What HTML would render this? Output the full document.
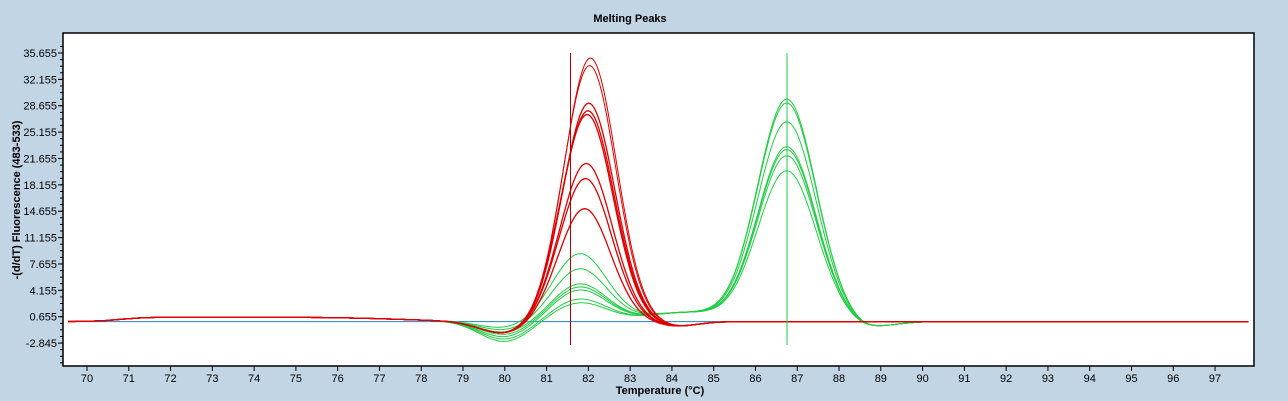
<!DOCTYPE html>
<html><head><meta charset="utf-8">
<style>
html,body{margin:0;padding:0;background:#c2d5e5;width:1288px;height:401px;overflow:hidden}
svg text{font-family:"Liberation Sans",sans-serif}
</style></head><body>
<svg id="s" width="1288" height="401" xmlns="http://www.w3.org/2000/svg">
<rect x="0" y="0" width="1288" height="401" fill="#c2d5e5"/>
<text x="630" y="22" font-size="11" font-weight="bold" text-anchor="middle">Melting Peaks</text>
<rect x="63" y="33" width="1191" height="333" fill="#fff" stroke="#000" stroke-width="1.5"/>
<text transform="translate(20,200) rotate(-90)" font-size="11" font-weight="bold" text-anchor="middle">-(d/dT) Fluorescence (483-533)</text>
<text x="660" y="394" font-size="11" font-weight="bold" text-anchor="middle">Temperature (°C)</text>
<g id="ax"></g>
<g id="curves" fill="none" stroke-width="1"></g>
</svg>
<script>
var ns="http://www.w3.org/2000/svg";
function X(t){return 87+41.78*(t-70);}
function Y(v){return 316.7-(v-0.655)*7.534;}
function el(p,tag,a,txt){var e=document.createElementNS(ns,tag);for(var k in a)e.setAttribute(k,a[k]);if(txt!==undefined)e.textContent=txt;p.appendChild(e);return e;}
var ax=document.getElementById('ax');
var labs=[35.655,32.155,28.655,25.155,21.655,18.155,14.655,11.155,7.655,4.155,0.655,-2.845];
labs.forEach(function(v){var y=Y(v);el(ax,'line',{x1:58,x2:63,y1:y,y2:y,stroke:'#000'});
el(ax,'text',{x:57,y:y+4,'font-size':11,'text-anchor':'end'},v.toFixed(3));});
for(var v=-2.845-3.5;v<37;v+=0.875){var y=Y(v);if(y>34&&y<366)el(ax,'line',{x1:60,x2:63,y1:y,y2:y,stroke:'#000'});}
for(var t=70;t<=97;t++){var x=X(t);el(ax,'line',{x1:x,x2:x,y1:366,y2:371,stroke:'#000'});
el(ax,'text',{x:x,y:382,'font-size':11,'text-anchor':'middle'},t);}
function g(t,m,s){return Math.exp(-(t-m)*(t-m)/(2*s*s));}
function base(t,k){
 var b=0.6*(1/(1+Math.exp(-(t-70.8)*3)))-0.6*(1/(1+Math.exp(-(t-77.5)*1.2)));
 b-= (1.3+k)*g(t,80,0.6);
 return b;}
var C=document.getElementById('curves');
function draw(f,t0,t1,col,w){var d='';for(var t=t0;t<=t1;t+=0.05){d+=(d?'L':'M')+X(t).toFixed(1)+' '+Y(f(t)).toFixed(1);}
el(C,'path',{d:d,stroke:col,'stroke-width':w||1});}
el(C,'line',{x1:X(69.55),x2:X(91.5),y1:Y(0),y2:Y(0),stroke:'#2080d0'});
var GA=[[9,29.5],[7,29],[5,26.5],[4.6,23.2],[4.2,22.8],[3,22],[2.5,20]];
GA.forEach(function(a,i){var k=i*0.15;
draw(function(t){var cut=1/(1+Math.exp((t-88.6)*6));
 var v=(base(t,k*2-0.4)+a[0]*g(t,81.8,0.65)+1.2*g(t,84.3,0.9)+a[1]*g(t,86.75,0.7))*cut-0.55*g(t,88.9,0.5);
 return v;},69.55,91.5,'#22cc44');});
var RA=[35,34,29,28,27.5,21,19,15];
RA.forEach(function(a,i){var m=82.05-i*0.02;
draw(function(t){return base(t,0.3)+a*g(t,m,0.62)-0.6*g(t,84.1,0.5);},69.55,97.8,'#dd0000',i<2?1:1.3);});
el(C,'line',{x1:570.5,x2:570.5,y1:53,y2:345,stroke:'#b00000'});
el(C,'line',{x1:787,x2:787,y1:53,y2:345,stroke:'#22cc44'});
</script>
</body></html>
